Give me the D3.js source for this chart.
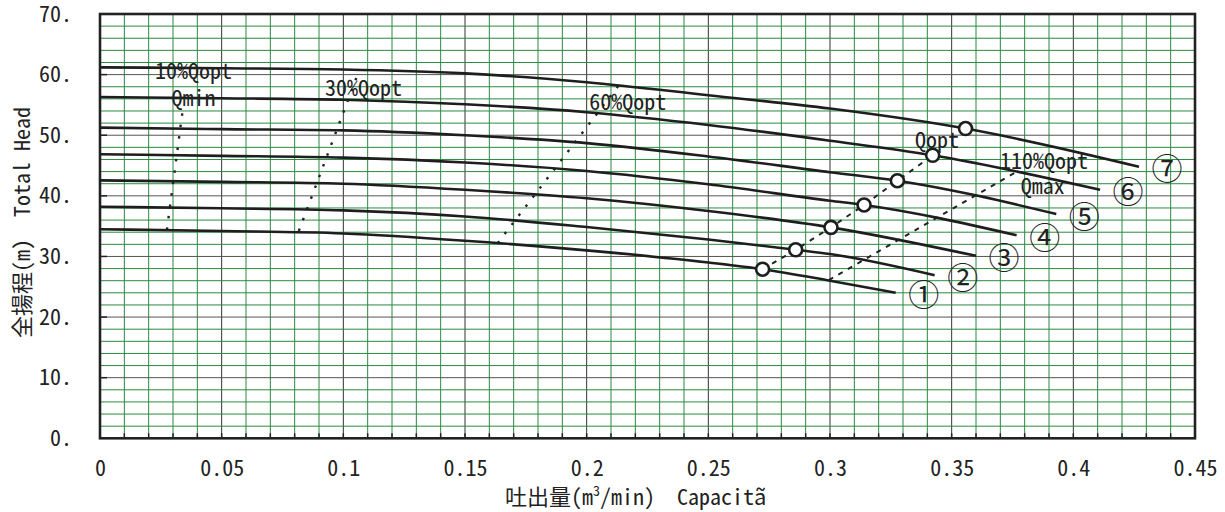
<!DOCTYPE html>
<html>
<head>
<meta charset="utf-8">
<script src="https://cdn.jsdelivr.net/npm/d3@7"></script>
<style>
  html, body { margin: 0; padding: 0; background: #fff; }
  text { font-family: "Noto Sans Mono CJK JP", "Noto Sans CJK JP", "DejaVu Sans Mono", monospace; fill: #222; white-space: pre; }
</style>
</head>
<body>
<script>
// pump curves, head (m) against capacity (m3/min)
var curve1 = [[0, 34.5], [0.05, 34.2], [0.1, 33.8], [0.15, 32.6], [0.2, 31.0], [0.25, 29.0], [0.2723, 27.9], [0.3, 26.0], [0.327, 24.0]];
var curve2 = [[0, 38.2], [0.05, 37.95], [0.1, 37.6], [0.15, 36.6], [0.2, 34.85], [0.25, 32.8], [0.2859, 31.1], [0.3, 30.4], [0.343, 26.9]];
var curve3 = [[0, 42.55], [0.05, 42.3], [0.1, 42.0], [0.15, 41.0], [0.2, 39.6], [0.25, 37.5], [0.3004, 34.8], [0.36, 30.1]];
var curve4 = [[0, 46.85], [0.05, 46.6], [0.1, 46.3], [0.15, 45.5], [0.2, 44.1], [0.25, 41.9], [0.3, 39.2], [0.314, 38.5], [0.3767, 33.5]];
var curve5 = [[0, 51.25], [0.05, 51.0], [0.1, 50.8], [0.15, 50.0], [0.2, 48.7], [0.25, 46.5], [0.3, 43.9], [0.3277, 42.5], [0.393, 37.0]];
var curve6 = [[0, 56.3], [0.05, 56.1], [0.1, 55.85], [0.15, 55.1], [0.2, 53.8], [0.25, 51.7], [0.3, 49.1], [0.3422, 46.7], [0.411, 41.0]];
var curve7 = [[0, 61.2], [0.05, 61.05], [0.1, 60.85], [0.15, 60.2], [0.2, 58.75], [0.25, 56.6], [0.3, 54.4], [0.3557, 51.1], [0.427, 44.8]];
var curves = [curve1, curve2, curve3, curve4, curve5, curve6, curve7];
var curveNames = ["①", "②", "③", "④", "⑤", "⑥", "⑦"];

// best efficiency points (circles)
var qoptPoints = [[0.2723, 27.9], [0.2859, 31.1], [0.3004, 34.8], [0.314, 38.5], [0.3277, 42.5], [0.3422, 46.7], [0.3557, 51.1]];

// guide lines
var line10 = [[0.0275, 34.4], [0.034, 54.2]];
var line30 = [[0.0817, 34.2], [0.1067, 60.9]];
var line60 = [[0.1634, 32.2], [0.2137, 58.5]];
var lineQopt = qoptPoints.slice(0, 6);
var line110 = [[0.2995, 26.1], [0.3764, 43.9]];

var notes = [
    ["10%Qopt", 0.0226, 59.3], ["Qmin", 0.0294, 54.8], ["30%Qopt", 0.0925, 56.5],
    ["60%Qopt", 0.2011, 54.2], ["Qopt", 0.3349, 47.9], ["110%Qopt", 0.3699, 44.4], ["Qmax", 0.3784, 40.3]
];

var xTicks = [0, 0.05, 0.1, 0.15, 0.2, 0.25, 0.3, 0.35, 0.4, 0.45];
var yTicks = [0, 10, 20, 30, 40, 50, 60, 70];

var W = 1225, H = 512;
var x = d3.scaleLinear().domain([0, 0.45]).range([100, 1195]);
var y = d3.scaleLinear().domain([0, 70]).range([438.3, 14]);

var svg = d3.select("body").append("svg").attr("width", W).attr("height", H);

// fine grid
var grid = svg.append("g");
grid.selectAll("line.v").data(d3.range(1, 45)).enter().append("line")
    .attr("x1", function (i) { return x(i / 100); }).attr("x2", function (i) { return x(i / 100); })
    .attr("y1", y(70)).attr("y2", y(0))
    .attr("stroke", function (i) { return i % 5 == 0 ? "#333" : "#2a8a40"; })
    .attr("stroke-width", 1);
grid.selectAll("line.h").data(d3.range(1, 35)).enter().append("line")
    .attr("y1", function (i) { return y(i * 2); }).attr("y2", function (i) { return y(i * 2); })
    .attr("x1", x(0)).attr("x2", x(0.45))
    .attr("stroke", function (i) { return (i * 2) % 10 == 0 ? "#555" : "#2a8a40"; })
    .attr("stroke-width", 1);

// axes
var xAxis = d3.axisBottom(x).tickValues(xTicks).tickSize(0).tickPadding(22)
    .tickFormat(function (d) { return String(+d.toFixed(2)); });
var gx = svg.append("g").attr("transform", "translate(0," + y(0) + ")").call(xAxis);
gx.select(".domain").remove();
gx.selectAll("text").attr("font-size", 22).attr("font-family", null).attr("fill", "#222");

var yAxis = d3.axisLeft(y).tickValues(yTicks).tickSize(0).tickPadding(28)
    .tickFormat(function (d) { return d + "."; });
var gy = svg.append("g").attr("transform", "translate(" + x(0) + ",0)").call(yAxis);
gy.select(".domain").remove();
gy.selectAll("text").attr("font-size", 22).attr("font-family", null).attr("fill", "#222");

// small inner ticks
svg.append("g").selectAll("line").data(d3.range(1, 45)).enter().append("line")
    .attr("x1", function (i) { return x(i / 100); }).attr("x2", function (i) { return x(i / 100); })
    .attr("y1", y(0)).attr("y2", y(0) - 5).attr("stroke", "#222").attr("stroke-width", 1.5);
svg.append("g").selectAll("line").data(yTicks.slice(1, 7)).enter().append("line")
    .attr("y1", function (d) { return y(d); }).attr("y2", function (d) { return y(d); })
    .attr("x1", x(0)).attr("x2", x(0) + 7).attr("stroke", "#222").attr("stroke-width", 1.5);

// frame
svg.append("rect").attr("x", x(0)).attr("y", y(70))
    .attr("width", x(0.45) - x(0)).attr("height", y(0) - y(70))
    .attr("fill", "none").attr("stroke", "#222").attr("stroke-width", 2.6);

var line = d3.line().x(function (d) { return x(d[0]); }).y(function (d) { return y(d[1]); });
var smooth = d3.line().curve(d3.curveMonotoneX).x(function (d) { return x(d[0]); }).y(function (d) { return y(d[1]); });

// dotted / dashed guide lines
svg.append("g").selectAll("path").data([line10, line30, line60]).enter().append("path")
    .attr("d", line).attr("fill", "none").attr("stroke", "#222")
    .attr("stroke-width", 2.4).attr("stroke-dasharray", "2.5,9");
svg.append("g").selectAll("path").data([lineQopt, line110]).enter().append("path")
    .attr("d", line).attr("fill", "none").attr("stroke", "#222")
    .attr("stroke-width", 2).attr("stroke-dasharray", "5,6");

// pump curves
svg.append("g").selectAll("path").data(curves).enter().append("path")
    .attr("d", smooth).attr("fill", "none").attr("stroke", "#1e1e1e").attr("stroke-width", 2.6);

svg.append("g").selectAll("circle").data(qoptPoints).enter().append("circle")
    .attr("cx", function (d) { return x(d[0]); }).attr("cy", function (d) { return y(d[1]); })
    .attr("r", 6.5).attr("fill", "#fff").attr("stroke", "#1e1e1e").attr("stroke-width", 2.6);

// curve numbers next to curve ends
svg.append("g").selectAll("text").data(curves).enter().append("text")
    .attr("x", function (c) { return x(c[c.length - 1][0]) + 28; })
    .attr("y", function (c) { return y(c[c.length - 1][1]); })
    .attr("text-anchor", "middle").attr("dominant-baseline", "central")
    .attr("font-size", 31)
    .text(function (c, i) { return curveNames[i]; });

// guide labels
svg.append("g").selectAll("text").data(notes).enter().append("text")
    .attr("x", function (d) { return x(d[1]); }).attr("y", function (d) { return y(d[2]); })
    .attr("font-size", 22)
    .text(function (d) { return d[0]; });

// axis titles
var xt = svg.append("text").attr("x", 505).attr("y", 505).attr("font-size", 22);
xt.append("tspan").text("吐出量(m");
xt.append("tspan").attr("font-size", 14).attr("dy", -9).text("3");
xt.append("tspan").attr("dy", 9).text("/min)  Capacitã");

svg.append("text").attr("transform", "translate(20,338) rotate(-90)")
    .attr("dominant-baseline", "central").attr("font-size", 22)
    .text("全揚程(m)  Total Head");
</script>
</body>
</html>
